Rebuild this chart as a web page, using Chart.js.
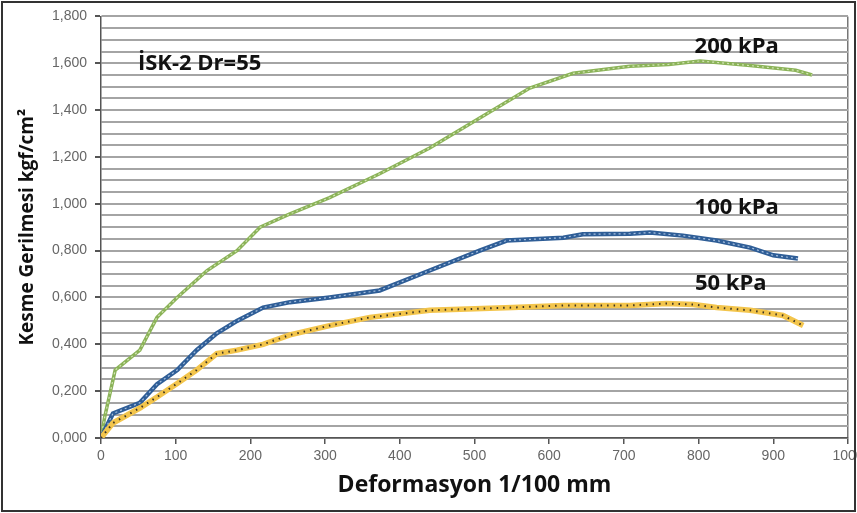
<!DOCTYPE html>
<html>
<head>
<meta charset="utf-8">
<script src="https://cdn.jsdelivr.net/npm/chart.js@4.4.1/dist/chart.umd.min.js"></script>
<style>
  body { margin: 0; background: #fff; }
  #wrap { width: 857px; height: 513px; }
</style>
</head>
<body>
<div id="wrap"><canvas id="c"></canvas></div>
<script>
// deformasyon (1/100 mm) and kesme gerilmesi (kgf/cm2)
const X200 = [0, 5, 19, 52, 75, 102, 142, 182, 213, 253, 306, 373, 440, 507, 574, 632, 708, 760, 802, 869, 930, 952]
const Y200 = [0, 0.09, 0.29, 0.375, 0.515, 0.60, 0.715, 0.80, 0.90, 0.957, 1.026, 1.128, 1.238, 1.366, 1.494, 1.557, 1.587, 1.595, 1.61, 1.59, 1.57, 1.55]

const X100 = [0, 16, 52, 75, 102, 128, 155, 182, 217, 253, 306, 373, 440, 507, 543, 619, 645, 708, 735, 779, 824, 869, 900, 933]
const Y100 = [0, 0.105, 0.15, 0.23, 0.29, 0.375, 0.447, 0.50, 0.557, 0.58, 0.60, 0.63, 0.715, 0.80, 0.843, 0.855, 0.87, 0.872, 0.877, 0.864, 0.843, 0.813, 0.78, 0.766]

const X50 = [0, 16, 52, 75, 102, 128, 155, 182, 217, 253, 306, 360, 440, 551, 619, 708, 757, 793, 824, 869, 913, 940]
const Y50 = [0, 0.064, 0.128, 0.175, 0.233, 0.29, 0.36, 0.375, 0.40, 0.44, 0.48, 0.515, 0.545, 0.557, 0.566, 0.566, 0.574, 0.57, 0.557, 0.545, 0.523, 0.48]

// text labels placed in data units
const Notes = [
    {text: "İSK-2 Dr=55", x: 132, y: 1.60},
    {text: "200 kPa", x: 851, y: 1.672},
    {text: "100 kPa", x: 851, y: 0.983},
    {text: "50 kPa", x: 843, y: 0.66}
]

function Pts(xs, ys){
    return xs.map(function(x, i){ return {x: x, y: ys[i]} })
}

// lower order is drawn on top
function Line(xs, ys, color, width, order, dash){
    return {
        data: Pts(xs, ys),
        borderColor: color,
        borderWidth: width,
        borderDash: dash || [],
        pointRadius: 0,
        tension: 0,
        fill: false,
        order: order
    }
}

const BoldFont = "'Open Sans', sans-serif"

const NotesPlugin = {
    id: "notes",
    afterDatasetsDraw(chart){
        const ctx = chart.ctx
        ctx.save()
        ctx.fillStyle = "#111"
        ctx.font = "bold 22px " + BoldFont
        ctx.textAlign = "center"
        ctx.textBaseline = "middle"
        for (const N of Notes){
            ctx.fillText(N.text, chart.scales.x.getPixelForValue(N.x), chart.scales.y.getPixelForValue(N.y))
        }
        ctx.restore()
    }
}

const FramePlugin = {
    id: "frame",
    beforeDraw(chart){
        const ctx = chart.ctx
        ctx.save()
        ctx.fillStyle = "#fff"
        ctx.fillRect(0, 0, chart.width, chart.height)
        ctx.restore()
    },
    afterDraw(chart){
        const ctx = chart.ctx
        ctx.save()
        ctx.strokeStyle = "#333"
        ctx.lineWidth = 2
        ctx.strokeRect(2, 2, chart.width - 4, chart.height - 4)
        ctx.restore()
    }
}

new Chart(document.getElementById("c"), {
    type: "line",
    data: {
        datasets: [
            Line(X50, Y50, "#3b3322", 2, 0, [1.5, 5]),
            Line(X50, Y50, "#f3c54c", 5.5, 1),
            Line(X100, Y100, "#a7c0e0", 1.2, 2, [2, 3]),
            Line(X100, Y100, "#2f5e97", 4.5, 3),
            Line(X200, Y200, "#d3e4b6", 1.2, 4, [2, 3]),
            Line(X200, Y200, "#8bb358", 3.5, 5)
        ]
    },
    options: {
        responsive: true,
        maintainAspectRatio: false,
        animation: false,
        layout: {padding: {left: 0, right: 9, top: 15, bottom: 0}},
        plugins: {legend: {display: false}, tooltip: {enabled: false}},
        scales: {
            x: {
                type: "linear",
                min: 0,
                max: 1000,
                afterFit(scale){
                    scale.height = 75
                    scale.paddingLeft = 0
                    scale.paddingRight = 0
                },
                ticks: {
                    stepSize: 100,
                    color: "#666",
                    font: {family: "'Liberation Sans', Arial", size: 14},
                    padding: 4,
                    callback: function(v){ return String(v) }
                },
                grid: {
                    color: function(c){ return c.tick && c.tick.value === 1000 ? "#777" : "rgba(0,0,0,0)" },
                    tickColor: "#555",
                    tickLength: 6,
                    lineWidth: 1.5
                },
                border: {color: "#555", width: 1.5},
                title: {display: true, text: "Deformasyon 1/100 mm", color: "#111", font: {family: BoldFont, size: 23, weight: "bold"}, padding: {top: 0, bottom: 14}}
            },
            y: {
                min: 0,
                max: 1.8,
                afterFit(scale){ scale.width = 101 },
                ticks: {
                    stepSize: 0.05,
                    autoSkip: false,
                    color: "#666",
                    font: {family: "'Liberation Sans', Arial", size: 14},
                    padding: 8,
                    callback: function(v){
                        if (Math.round(v * 1000) % 200 !== 0) return ""
                        return v.toFixed(3).replace(".", ",")
                    }
                },
                grid: {
                    color: "#a4a4a4",
                    lineWidth: 2,
                    tickLength: 6,
                    tickColor: function(c){ return c.tick && Math.round(c.tick.value * 1000) % 200 === 0 ? "#555" : "rgba(0,0,0,0)" }
                },
                border: {color: "#555", width: 1.5},
                title: {display: true, text: "Kesme Gerilmesi kgf/cm²", color: "#111", font: {family: BoldFont, size: 19, weight: "bold"}, padding: {top: 16, bottom: 0}}
            }
        }
    },
    plugins: [FramePlugin, NotesPlugin]
})
</script>
</body>
</html>
